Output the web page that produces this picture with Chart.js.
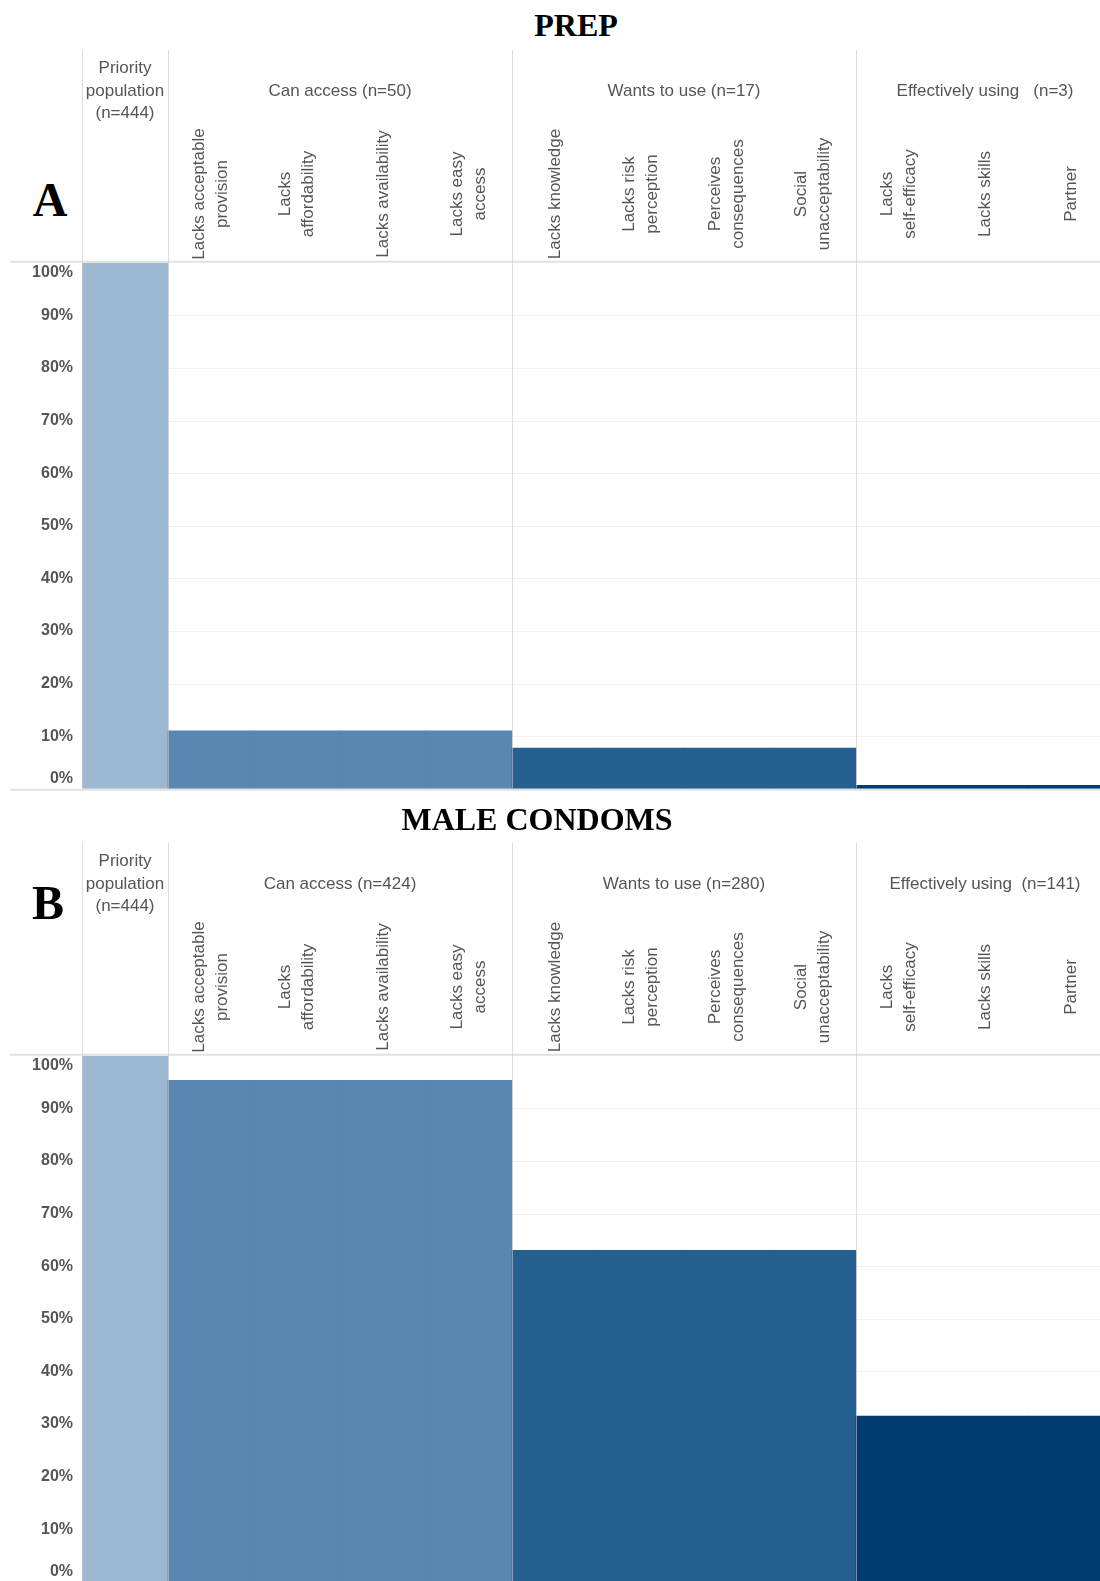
<!DOCTYPE html>
<html>
<head>
<meta charset="utf-8">
<script src="https://cdn.jsdelivr.net/npm/chart.js@4"></script>
<style>
  html, body { margin: 0; padding: 0; width: 1100px; height: 1581px; overflow: hidden; background: #fff; }
  .panel { position: absolute; left: 0; width: 1130px; height: 800px; }
  .panel canvas { position: absolute; left: 0; top: 0; }
  .title, .letter {
    position: absolute; transform: translate(-50%, -50%);
    font-family: 'Liberation Serif', 'Times New Roman', serif; font-weight: bold;
    color: #000; white-space: nowrap;
  }
  .title { font-size: 32px; }
  .letter { font-size: 48px; }
</style>
</head>
<body>
<div class="panel" id="panelA" style="top:0">
  <div class="title" style="left:576px; top:25px">PREP</div>
  <div class="letter" style="left:50px; top:199px">A</div>
  <canvas id="prepChart" width="1130" height="800"></canvas>
</div>
<div class="panel" id="panelB" style="top:793px">
  <div class="title" style="left:537px; top:26px">MALE CONDOMS</div>
  <div class="letter" style="left:48px; top:109px">B</div>
  <canvas id="condomChart" width="1130" height="800"></canvas>
</div>
<script>
// barrier sub-columns under each stage
const accessBarriers = [['Lacks acceptable', 'provision'], ['Lacks', 'affordability'], ['Lacks availability'], ['Lacks easy', 'access']];
const desireBarriers = [['Lacks knowledge'], ['Lacks risk', 'perception'], ['Perceives', 'consequences'], ['Social', 'unacceptability']];
const useBarriers = [['Lacks', 'self-efficacy'], ['Lacks skills'], ['Partner']];

const stageColors = ['#9db8d2', '#5887b2', '#245f8f', '#013b70'];

const prepHeaders = [['Priority', 'population', '(n=444)'], 'Can access (n=50)', 'Wants to use (n=17)', 'Effectively using   (n=3)'];
const prepValues = [100, 11.0, 7.7, 0.65];

const condomHeaders = [['Priority', 'population', '(n=444)'], 'Can access (n=424)', 'Wants to use (n=280)', 'Effectively using  (n=141)'];
const condomValues = [100, 95.3, 63.0, 31.5];

const yTicks = [0, 10, 20, 30, 40, 50, 60, 70, 80, 90, 100];

const groups = [[['Priority population']], accessBarriers, desireBarriers, useBarriers];
const labels = groups.flat();
const stageOf = groups.flatMap((g, i) => g.map(() => i));

const headerPlugin = {
  id: 'header',
  beforeDatasetsDraw(chart) {
    const { ctx, chartArea: a, scales: { y } } = chart;
    ctx.save();
    ctx.strokeStyle = '#f1f1f1';
    ctx.lineWidth = 1;
    yTicks.forEach(v => {
      if (v === 0 || v === 100) return;
      const py = Math.round(y.getPixelForValue(v)) + 0.5;
      ctx.beginPath();
      ctx.moveTo(a.left, py);
      ctx.lineTo(a.right, py);
      ctx.stroke();
    });
    ctx.restore();
  },
  afterDatasetsDraw(chart, args, opts) {
    const { ctx, chartArea: a, scales: { x, y } } = chart;
    const w = x.getPixelForValue(1) - x.getPixelForValue(0);
    ctx.save();

    // frame lines at 0% and 100%
    ctx.strokeStyle = '#e2e2e2';
    ctx.lineWidth = 2;
    [[100, -1], [0, 1]].forEach(([v, d]) => {
      const py = y.getPixelForValue(v) + d;
      ctx.beginPath();
      ctx.moveTo(10, py);
      ctx.lineTo(a.right, py);
      ctx.stroke();
    });

    // stage dividers
    ctx.strokeStyle = 'rgba(200,200,200,0.6)';
    ctx.lineWidth = 1;
    let start = 0;
    const spans = groups.map(g => { const s = [start, start + g.length - 1]; start += g.length; return s; });
    spans.forEach(([s]) => {
      const px = Math.round(x.getPixelForValue(s) - w / 2) + 0.5;
      ctx.beginPath();
      ctx.moveTo(px, 50);
      ctx.lineTo(px, a.bottom);
      ctx.stroke();
    });

    // y tick labels, kept inside the plot at the ends
    ctx.fillStyle = '#555';
    ctx.font = "bold 16px 'Liberation Sans', Arial, sans-serif";
    ctx.textAlign = 'right';
    ctx.textBaseline = 'middle';
    yTicks.forEach(v => {
      let py = y.getPixelForValue(v);
      py = Math.min(Math.max(py, a.top + 10), a.bottom - 10);
      ctx.fillText(v + '%', 73, py);
    });

    // stage headers
    ctx.fillStyle = '#555';
    ctx.font = "17px 'Liberation Sans', Arial, sans-serif";
    ctx.textAlign = 'center';
    opts.headers.forEach((h, i) => {
      const [s, e] = spans[i];
      const cx = (x.getPixelForValue(s) + x.getPixelForValue(e)) / 2;
      const lines = Array.isArray(h) ? h : [h];
      lines.forEach((t, j) => ctx.fillText(t, cx, 91 + (j - (lines.length - 1) / 2) * 22.5));
    });

    // rotated barrier labels
    labels.forEach((lab, i) => {
      if (stageOf[i] === 0) return;
      ctx.save();
      ctx.translate(x.getPixelForValue(i), 194);
      ctx.rotate(-Math.PI / 2);
      lab.forEach((t, j) => ctx.fillText(t, 0, (j - (lab.length - 1) / 2) * 23.5));
      ctx.restore();
    });
    ctx.restore();
  }
};

function makeChart(id, values, headers) {
  return new Chart(document.getElementById(id), {
    type: 'bar',
    data: {
      labels: labels,
      datasets: [{
        data: stageOf.map(s => values[s]),
        backgroundColor: stageOf.map(s => stageColors[s]),
        borderWidth: 0,
        categoryPercentage: 1,
        barPercentage: 1
      }]
    },
    options: {
      responsive: false,
      animation: false,
      devicePixelRatio: 1,
      layout: { padding: { left: 82, top: 262.7, right: 16, bottom: 11.3 } },
      scales: {
        x: { display: false },
        y: { display: false, min: 0, max: 100 }
      },
      plugins: {
        legend: { display: false },
        tooltip: { enabled: false },
        header: { headers: headers }
      }
    },
    plugins: [headerPlugin]
  });
}

makeChart('prepChart', prepValues, prepHeaders);
makeChart('condomChart', condomValues, condomHeaders);
</script>
</body>
</html>
